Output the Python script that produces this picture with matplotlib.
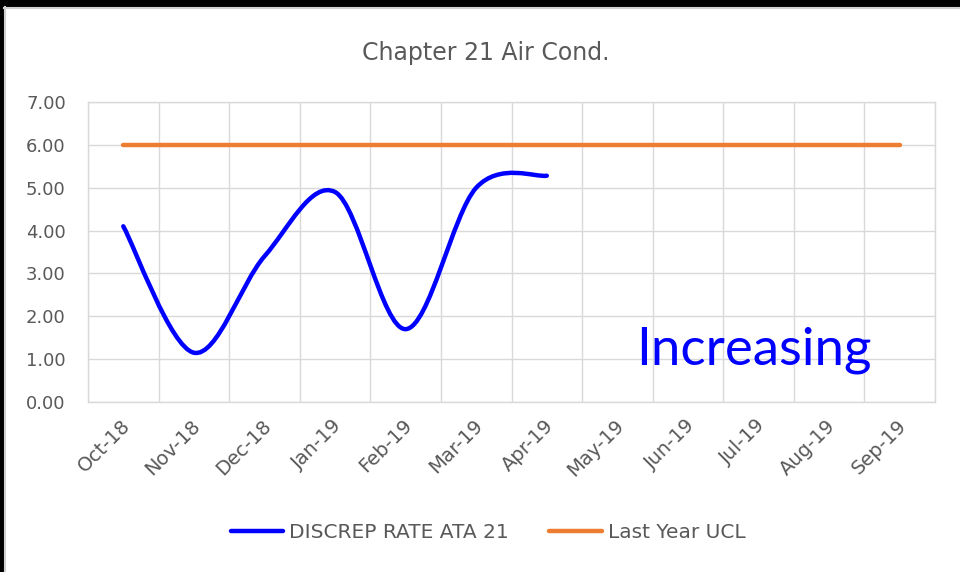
import matplotlib
matplotlib.use("Agg")
import matplotlib.pyplot as plt
from matplotlib.path import Path
from matplotlib.patches import PathPatch, Rectangle
from matplotlib.lines import Line2D
from matplotlib.transforms import ScaledTranslation
import numpy as np

months = ['Oct-18', 'Nov-18', 'Dec-18', 'Jan-19', 'Feb-19', 'Mar-19',
          'Apr-19', 'May-19', 'Jun-19', 'Jul-19', 'Aug-19', 'Sep-19']
discrep_rate = [4.10, 1.15, 3.40, 4.90, 1.70, 5.00, 5.28]
last_year_ucl = [6.0] * 12
y_ticks = [0, 1, 2, 3, 4, 5, 6, 7]

BLUE = '#0000FF'
ORANGE = '#ED7D31'
GRID = '#D9D9D9'
TXT = '#595959'

plt.rcParams['font.family'] = ['DejaVu Sans']

fig = plt.figure(figsize=(9.6, 5.72), dpi=100)
fig.patch.set_facecolor('white')
ax = fig.add_axes([88/960, 1 - 402/572, (935-88)/960, 300/572])

# smoothed series (Excel-style Bezier through the data points)
xs = np.arange(len(discrep_rate), dtype=float)
ys = np.array(discrep_rate, dtype=float)
pts = np.column_stack([xs, ys])
verts = [tuple(pts[0])]
codes = [Path.MOVETO]
n = len(pts)
for i in range(n - 1):
    p_prev = pts[i - 1] if i > 0 else pts[i]
    p0 = pts[i]
    p1 = pts[i + 1]
    p_next = pts[i + 2] if i + 2 < n else pts[i + 1]
    c1 = p0 + (p1 - p_prev) / 6.0
    c2 = p1 - (p_next - p0) / 6.0
    verts += [tuple(c1), tuple(c2), tuple(p1)]
    codes += [Path.CURVE4] * 3
ax.add_patch(PathPatch(Path(verts, codes), facecolor='none', edgecolor=BLUE,
                       lw=3.2, capstyle='round', joinstyle='round', zorder=4))

ax.plot(np.arange(len(last_year_ucl)), last_year_ucl, color=ORANGE, lw=3.2,
        solid_capstyle='round', zorder=3)

ax.set_xlim(-0.5, len(months) - 0.5)
ax.set_ylim(0, 7)
ax.set_yticks(y_ticks)
ax.set_yticklabels([f'{v:.2f}' for v in y_ticks], fontsize=13)
ax.set_xticks(np.arange(len(months)))
ax.set_xticklabels(months, rotation=45, ha='right', rotation_mode='anchor',
                   fontsize=14)
ax.set_xticks(np.arange(len(months) + 1) - 0.5, minor=True)
ax.tick_params(axis='both', which='both', length=0, colors=TXT)
ax.tick_params(axis='y', pad=16)
ax.tick_params(axis='x', pad=10)
shift = ScaledTranslation(-3/100, 0, fig.dpi_scale_trans)
for lab in ax.get_xticklabels():
    lab.set_transform(lab.get_transform() + shift)
ax.grid(True, which='minor', axis='x', color=GRID, lw=1)
ax.grid(True, which='major', axis='y', color=GRID, lw=1)
ax.set_axisbelow(True)
for s in ax.spines.values():
    s.set_color(GRID)
    s.set_linewidth(1)

fig.text(486/960, 1 - 53/572, 'Chapter 21 Air Cond.', ha='center', va='center',
         fontsize=17, color=TXT)

ax.text(8.94, 0.88, 'Increasing', ha='center', va='baseline', fontsize=38,
        color=BLUE, family=['Lato'])

handles = [Line2D([], [], color=BLUE, lw=3.2, solid_capstyle='round'),
           Line2D([], [], color=ORANGE, lw=3.2, solid_capstyle='round')]
fig.legend(handles, ['DISCREP RATE ATA 21', 'Last Year UCL'], loc='center',
           bbox_to_anchor=(488/960, 1 - 533/572), ncol=2, frameon=False,
           fontsize=14.5, labelcolor=TXT, handlelength=2.6, handletextpad=0.3,
           columnspacing=2.0)

# black frame at top and left edges
fig.add_artist(Rectangle((0, 1 - 7/572), 1, 7/572, transform=fig.transFigure,
                         color='black', lw=0))
fig.add_artist(Rectangle((0, 0), 4/960, 1, transform=fig.transFigure,
                         color='black', lw=0))
fig.add_artist(Line2D([4.5/960, 4.5/960], [0, 1 - 7/572], transform=fig.transFigure,
                      color='#D0D0D0', lw=1.5))
fig.add_artist(Line2D([4/960, 1], [1 - 7.5/572, 1 - 7.5/572], transform=fig.transFigure,
                      color='#D0D0D0', lw=1.5))

fig.savefig('out.png', dpi=100, facecolor='white')
